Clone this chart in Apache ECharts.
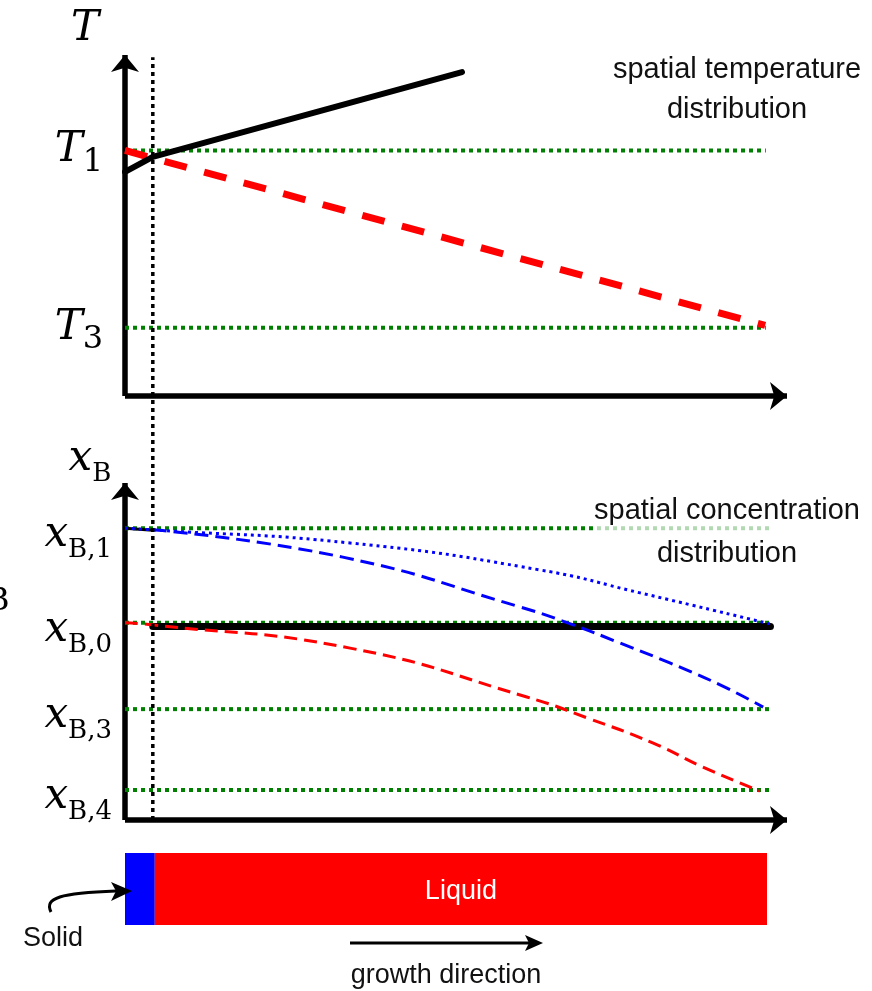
<!DOCTYPE html>
<html>
<head>
<meta charset="utf-8">
<script src="https://cdn.jsdelivr.net/npm/echarts@6/dist/echarts.min.js"></script>
<style>
  html, body { margin: 0; padding: 0; background: #fff; }
  #chart { width: 872px; height: 991px; }
</style>
</head>
<body>
<div id="chart"></div>
<script>
// Position along the sample (arbitrary units, 0 = cold end)
const xMax = 100;
const interfacePos = 4.2;

// Temperature panel
const tempMax = 100;
const tempLevels = [72, 20];
const tempLevelSubs = ['1', '3'];
const tempLevelEnd = 96.8;
const actualTemp = [[0, 65.7], [4.2, 70.1], [50.9, 95.0]];
const liquidusTemp = [[0, 72], [96.7, 20.7]];

// Concentration panel
const concMax = 100;
const concLevels = [86.6, 58.5, 32.9, 8.9];
const concLevelSubs = ['B,1', 'B,0', 'B,3', 'B,4'];
const concLevelEnd = 97.5;
const solidConc = [[0, 86.6], [4.2, 86.0]];
const bulkConc = [[4.2, 57.4], [97.5, 57.4]];
const profileDotted = [[0, 86.6], [4.2, 86.1], [34.0, 82.2], [62.7, 74.2], [77.8, 67.4], [97.4, 58.2]];
const profileDashed = [[4.2, 86.1], [32.9, 78.0], [59.7, 63.2], [67.7, 57.9], [74.8, 52.5], [82.3, 46.6], [89.9, 40.1], [96.4, 33.5]];
const profileRed = [[0, 58.5], [4.2, 57.9], [34.0, 51.0], [60.7, 36.5], [69.8, 30.3], [79.8, 22.8], [87.3, 15.7], [95.9, 8.6]];

// Sample bar
const phases = ['Solid', 'Liquid'];
const phaseLengths = [4.5, 92.5];
const phaseColors = ['#0000ff', '#ff0000'];

const GREEN = '#008000';
const MATH = '"DejaVu Serif", "Liberation Serif", serif';
const SANS = '"Liberation Sans", Arial, sans-serif';

const chart = echarts.init(document.getElementById('chart'), null, { renderer: 'canvas' });

function arrowAxisLine() {
  return {
    show: true,
    symbol: ['none', 'arrow'],
    symbolSize: [21, 17],
    lineStyle: { color: '#000', width: 5.5, cap: 'butt' }
  };
}

function hiddenAxis(extra) {
  return Object.assign({
    type: 'value', show: false, splitLine: { show: false }
  }, extra);
}

const mathRich = (subSize) => ({
  m: { fontFamily: MATH, fontStyle: 'italic', fontSize: 42, color: '#000', lineHeight: 56, verticalAlign: 'middle' },
  s: { fontFamily: MATH, fontSize: subSize, color: '#000', lineHeight: 56, verticalAlign: 'bottom' }
});

const levelLine = (xi, yi, v, end) => ({
  type: 'line', xAxisIndex: xi, yAxisIndex: yi, symbol: 'none', silent: true,
  data: [[0, v], [end, v]],
  lineStyle: { color: GREEN, width: 4, type: [4, 4] }, z: 3
});

const option = {
  animation: false,
  backgroundColor: '#fff',
  grid: [
    { left: 125, width: 662, top: 55, height: 341 },
    { left: 125, width: 662, top: 483, height: 337 },
    { left: 125, width: 662, top: 55, height: 765 },
    { left: 125, width: 642, top: 853, height: 72 }
  ],
  xAxis: [
    { type: 'value', gridIndex: 0, min: 0, max: xMax, axisLine: arrowAxisLine(),
      axisTick: { show: false }, axisLabel: { show: false }, splitLine: { show: false } },
    { type: 'value', gridIndex: 1, min: 0, max: xMax, axisLine: arrowAxisLine(),
      axisTick: { show: false }, axisLabel: { show: false }, splitLine: { show: false } },
    hiddenAxis({ gridIndex: 2, min: 0, max: xMax }),
    hiddenAxis({ gridIndex: 3, min: 0, max: 97 })
  ],
  yAxis: [
    { type: 'value', gridIndex: 0, min: 0, max: tempMax, axisLine: arrowAxisLine(),
      axisTick: { show: false }, splitLine: { show: false },
      name: '{m|T}', nameLocation: 'end', nameGap: -2,
      nameTextStyle: { rich: mathRich(30), padding: [0, 80, 0, 0] },
      axisLabel: {
        customValues: tempLevels, margin: 22,
        formatter: (v) => '{m|T}{s|' + tempLevelSubs[tempLevels.indexOf(v)] + '}',
        rich: mathRich(32)
      } },
    { type: 'value', gridIndex: 1, min: 0, max: concMax, axisLine: arrowAxisLine(),
      axisTick: { show: false }, splitLine: { show: false },
      name: '{m|x}{s|B}', nameLocation: 'end', nameGap: -4,
      nameTextStyle: { rich: mathRich(26), padding: [0, 70, 0, 0] },
      axisLabel: {
        customValues: concLevels, margin: 13, padding: [14, 0, 0, 0],
        formatter: (v) => '{m|x}{s|' + concLevelSubs[concLevels.indexOf(v)] + '}',
        rich: mathRich(26)
      } },
    hiddenAxis({ gridIndex: 2, min: 0, max: 100 }),
    { type: 'category', gridIndex: 3, show: false, data: ['sample'] }
  ],
  series: [
    // temperature panel
    levelLine(0, 0, tempLevels[0], tempLevelEnd),
    levelLine(0, 0, tempLevels[1], tempLevelEnd),
    { type: 'line', xAxisIndex: 0, yAxisIndex: 0, symbol: 'none', data: liquidusTemp, z: 4,
      lineStyle: { color: '#ff0000', width: 7, type: [23, 18], cap: 'butt' } },
    { type: 'line', xAxisIndex: 0, yAxisIndex: 0, symbol: 'none', data: actualTemp, z: 5,
      lineStyle: { color: '#000', width: 6, cap: 'round', join: 'round' } },

    // concentration panel
    levelLine(1, 1, concLevels[0], concLevelEnd),
    levelLine(1, 1, concLevels[1], concLevelEnd),
    levelLine(1, 1, concLevels[2], concLevelEnd),
    levelLine(1, 1, concLevels[3], concLevelEnd),
    { type: 'line', xAxisIndex: 1, yAxisIndex: 1, symbol: 'none', data: bulkConc, z: 4,
      lineStyle: { color: '#000', width: 7, cap: 'round' } },
    { type: 'line', xAxisIndex: 1, yAxisIndex: 1, symbol: 'none', data: solidConc, z: 4,
      lineStyle: { color: '#000', width: 3 } },
    { type: 'line', xAxisIndex: 1, yAxisIndex: 1, symbol: 'none', smooth: true, data: profileDotted, z: 5,
      lineStyle: { color: '#0000ff', width: 3, type: [3, 4] } },
    { type: 'line', xAxisIndex: 1, yAxisIndex: 1, symbol: 'none', smooth: true, data: profileDashed, z: 5,
      lineStyle: { color: '#0000ff', width: 3, type: [14, 7] } },
    { type: 'line', xAxisIndex: 1, yAxisIndex: 1, symbol: 'none', smooth: true, data: profileRed, z: 5,
      lineStyle: { color: '#ff0000', width: 3, type: [13, 7] } },

    // solid/liquid interface across both panels
    { type: 'line', xAxisIndex: 2, yAxisIndex: 2, symbol: 'none', z: 6,
      data: [[interfacePos, 0], [interfacePos, 99.7]],
      lineStyle: { color: '#000', width: 3.5, type: [4, 4] } },

    // sample bar
    { type: 'bar', xAxisIndex: 3, yAxisIndex: 3, stack: 'sample', barWidth: '100%',
      name: phases[0], data: [phaseLengths[0]], itemStyle: { color: phaseColors[0] } },
    { type: 'bar', xAxisIndex: 3, yAxisIndex: 3, stack: 'sample', barWidth: '100%',
      name: phases[1], data: [phaseLengths[1]], itemStyle: { color: phaseColors[1] },
      label: { show: true, position: 'inside', formatter: phases[1], color: '#fff',
               fontFamily: SANS, fontSize: 27, offset: [0, 3] } }
  ],
  graphic: [
    { type: 'text', x: 737, y: 50, z: 100,
      style: { text: 'spatial temperature\ndistribution', font: '29px ' + SANS, fill: '#111',
               align: 'center', verticalAlign: 'top', lineHeight: 40 } },
    { type: 'text', x: 727, y: 489, z: 100,
      style: { text: 'spatial concentration\ndistribution', font: '29px ' + SANS, fill: '#111',
               align: 'center', verticalAlign: 'top', lineHeight: 43,
               backgroundColor: 'rgba(255,255,255,0.7)' } },
    { type: 'text', x: -14, y: 586, z: 100,
      style: { text: 'B', font: '32px ' + MATH, fill: '#000' } },
    { type: 'text', x: 53, y: 939, z: 100,
      style: { text: phases[0], font: '27px ' + SANS, fill: '#111', align: 'center', verticalAlign: 'middle' } },
    { type: 'bezierCurve', z: 100,
      shape: { x1: 51, y1: 912, cpx1: 44, cpy1: 898, cpx2: 60, cpy2: 893, x2: 116, y2: 891 },
      style: { stroke: '#000', lineWidth: 3, fill: null } },
    { type: 'polygon', z: 101,
      shape: { points: [[111, 882], [132, 891], [111, 901], [116, 891]] },
      style: { fill: '#000' } },
    { type: 'line', z: 100,
      shape: { x1: 350, y1: 943, x2: 532, y2: 943 },
      style: { stroke: '#000', lineWidth: 3 } },
    { type: 'polygon', z: 100,
      shape: { points: [[525, 935], [543, 943], [525, 951], [529, 943]] },
      style: { fill: '#000' } },
    { type: 'text', x: 446, y: 976, z: 100,
      style: { text: 'growth direction', font: '27px ' + SANS, fill: '#111', align: 'center', verticalAlign: 'middle' } }
  ]
};

chart.setOption(option);
</script>
</body>
</html>
